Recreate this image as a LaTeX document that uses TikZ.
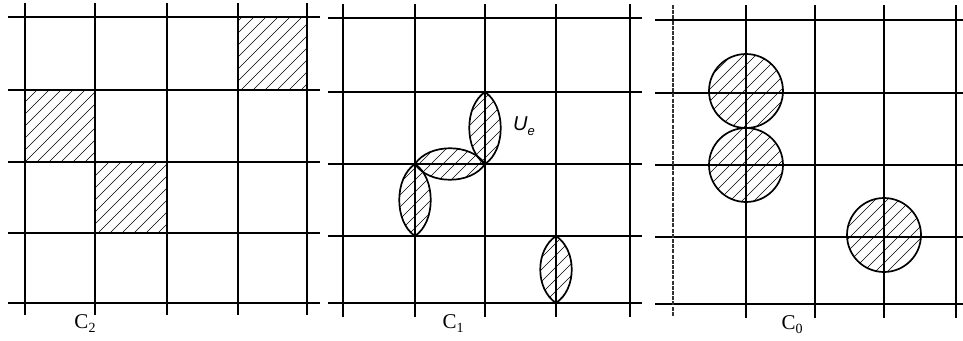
\documentclass[tikz,border=0pt]{standalone}
\usepackage{fontspec}
\newfontfamily\helv{Liberation Sans}
\newfontfamily\tms{Liberation Serif}
\begin{document}
\begin{tikzpicture}[x=1pt,y=-1pt,
  gridline/.style={line width=1.3pt,black},
  faintline/.style={line width=1.1pt,black!80,dash pattern=on 4pt off 1.2pt},
  hatchline/.style={line width=0.6pt,black},
  outline/.style={line width=1.7pt,black},
  lbl/.style={inner sep=0pt,anchor=base}]
\useasboundingbox (0,0) rectangle (963,340);
\newcommand\hatchfill[1]{%
  \begin{scope}\clip #1;
    \foreach \c in {0,12,...,1320} {\draw[hatchline] (\c,-5) -- ({\c-350},345);}
  \end{scope}}
\newcommand\vlens[3]{({#1},{#2}) .. controls ({#1+21},{#2+14}) and ({#1+21},{#3-14}) .. ({#1},{#3}) .. controls ({#1-21},{#3-14}) and ({#1-21},{#2+14}) .. ({#1},{#2}) -- cycle}
\newcommand\hlens[3]{({#1},{#3}) .. controls ({#1+14},{#3-21}) and ({#2-14},{#3-21}) .. ({#2},{#3}) .. controls ({#2-14},{#3+21}) and ({#1+14},{#3+21}) .. ({#1},{#3}) -- cycle}
\newcommand\clabel[1]{\tms\fontsize{21}{22}\selectfont C\raisebox{-4pt}{\fontsize{14}{15}\selectfont #1}}
% ---------- panel C2 ----------
\hatchfill{(238,17) rectangle (307,90)}
\hatchfill{(25,90) rectangle (95,162)}
\hatchfill{(95,162) rectangle (167,233)}
\foreach \y in {17,90,162,233,303} \draw[gridline] (8,\y) -- (320,\y);
\foreach \x in {25,95,167,238,307} \draw[gridline] (\x,3) -- (\x,315);
\node[lbl] (c2) at (85,328) {\clabel{2}};
% ---------- panel C1 ----------
\hatchfill{\vlens{485}{92}{164}}
\hatchfill{\hlens{415}{485}{164}}
\hatchfill{\vlens{415}{164}{236}}
\hatchfill{\vlens{556}{236}{303}}
\foreach \y in {18,92,164,236,303} \draw[gridline] (328,\y) -- (642,\y);
\foreach \x in {343,415,485,556,630} \draw[gridline] (\x,4) -- (\x,317);
\draw[outline] \vlens{485}{92}{164};
\draw[outline] \hlens{415}{485}{164};
\draw[outline] \vlens{415}{164}{236};
\draw[outline] \vlens{556}{236}{303};
\node[inner sep=0pt,anchor=base west] (ue) at (513,130) {\helv\fontsize{20}{22}\selectfont\itshape U\raisebox{-5pt}{\fontsize{13}{14}\selectfont e}};
\node[lbl] (c1) at (453,328) {\clabel{1}};
% ---------- panel C0 ----------
\hatchfill{(746,91) circle (37)}
\hatchfill{(746,165) circle (37)}
\hatchfill{(884,235) circle (37)}
\foreach \y in {20,93,165,237,304} \draw[gridline] (655,\y) -- (963,\y);
\draw[faintline] (673,5) -- (673,316);
\foreach \x in {746,815,884,956} \draw[gridline] (\x,5) -- (\x,318);
\draw[outline] (746,91) circle (37);
\draw[outline] (746,165) circle (37);
\draw[outline] (884,235) circle (37);
\node[lbl] (c0) at (792,329) {\clabel{0}};
\end{tikzpicture}
\end{document}
